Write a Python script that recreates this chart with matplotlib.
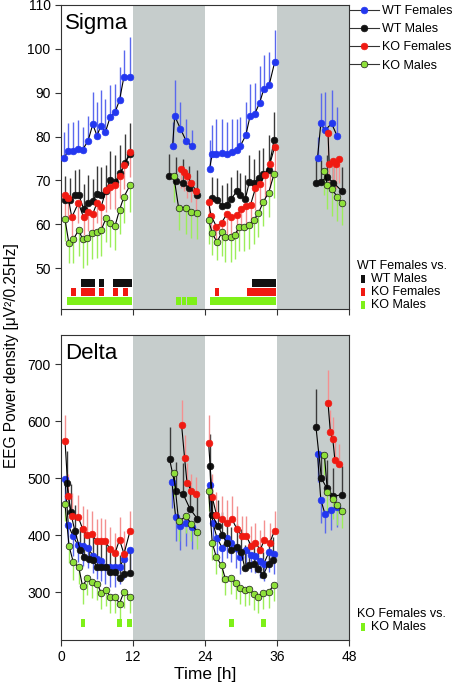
import numpy as np
import matplotlib
matplotlib.use('Agg')
import matplotlib.pyplot as plt
from matplotlib.lines import Line2D
from matplotlib.patches import Rectangle

plt.rcParams['font.family'] = ['Liberation Sans', 'DejaVu Sans']

# ---------------- Sigma (top panel) ----------------
sig_t_wtf = [0.55, 1.12, 1.95, 2.8, 3.6, 4.5, 5.3, 6.0, 6.65, 7.4, 8.2, 9.0, 9.75, 10.5, 11.5,
             18.6, 18.95, 19.9, 20.9, 21.85,
             24.75, 25.2, 25.9, 26.8, 27.7, 28.5, 29.3, 29.9, 30.8, 31.5, 32.3, 33.1, 33.8, 34.7, 35.6,
             42.75, 43.3, 44.0, 45.1, 46.0]
sig_v_wtf = [75.1, 76.7, 76.7, 77.2, 77.0, 79.0, 82.8, 80.2, 82.5, 81.0, 84.5, 85.5, 88.3, 93.7, 93.7,
             77.8, 84.7, 81.8, 78.9, 77.8,
             72.6, 76.0, 76.1, 76.2, 76.0, 76.5, 77.0, 77.9, 80.3, 84.6, 85.2, 87.7, 90.8, 91.8, 96.9,
             75.1, 83.0, 81.4, 83.0, 80.2]
sig_e_wtf = [5.9, 6.5, 6.6, 6.5, 5.3, 5.6, 7.3, 7.7, 8.2, 7.6, 7.2, 6.5, 7.5, 6.1, 8.9,
             5.5, 8.1, 6.1, 5.2, 3.8,
             6.6, 6.6, 7.8, 7.7, 7.3, 7.5, 7.0, 6.5, 7.6, 7.4, 7.0, 8.5, 7.7, 7.5, 7.4,
             4.8, 6.9, 8.7, 7.7, 6.5]

sig_t_wtm = [0.65, 1.45, 2.25, 3.0, 3.75, 4.5, 5.3, 6.0, 6.7, 7.5, 8.2, 9.0, 9.85, 10.7, 11.5,
             18.06, 19.2, 20.3, 21.4, 22.7,
             25.2, 26.0, 26.9, 27.6, 28.4, 29.3, 29.9, 30.7, 31.4, 32.2, 33.0, 33.7, 34.6, 35.5,
             42.5, 43.3, 44.3, 45.4, 46.8]
sig_v_wtm = [65.5, 65.5, 66.6, 66.6, 63.6, 64.8, 65.4, 67.0, 66.6, 67.5, 70.2, 69.7, 71.6, 74.0, 76.0,
             71.0, 69.8, 69.5, 68.2, 66.8,
             66.1, 65.5, 64.2, 64.5, 65.8, 67.6, 66.7, 65.7, 69.7, 69.5, 70.6, 71.4, 72.5, 79.2,
             69.5, 69.7, 70.8, 69.5, 67.6]
sig_e_wtm = [5.5, 5.0, 5.8, 6.0, 5.5, 6.5, 5.0, 6.2, 6.5, 6.0, 6.5, 6.0, 6.5, 6.5, 7.0,
             5.0, 5.5, 5.5, 5.0, 5.5,
             4.7, 5.0, 4.7, 5.0, 5.0, 4.7, 5.0, 5.5, 6.0, 5.5, 6.4, 6.0, 7.8, 6.4,
             5.9, 5.0, 5.0, 5.5, 5.5]

sig_t_kof = [0.67, 1.23, 1.8, 2.9, 3.75, 4.5, 5.3, 6.0, 6.7, 7.5, 8.2, 9.0, 9.75, 10.5, 11.5,
             20.0, 20.5, 21.0, 21.7, 22.5,
             24.6, 25.0, 25.9, 26.8, 27.6, 28.4, 29.3, 30.05, 30.8, 31.6, 32.4, 33.2, 34.0, 34.8, 35.6,
             44.5, 44.7, 45.3, 45.8, 46.3]
sig_v_kof = [66.6, 65.9, 61.6, 64.9, 61.6, 62.9, 62.4, 64.9, 64.0, 67.9, 68.5, 69.0, 71.1, 73.5, 76.4,
             72.7, 72.0, 71.0, 69.5, 67.6,
             65.1, 62.0, 59.5, 60.4, 62.3, 61.7, 62.1, 63.4, 64.2, 64.5, 68.2, 69.3, 71.2, 73.7, 77.6,
             80.9, 73.7, 74.4, 73.7, 74.9]
sig_e_kof = [4.6, 4.5, 4.5, 4.5, 4.0, 4.5, 4.5, 4.5, 4.5, 5.0, 5.0, 5.5, 5.0, 5.5, 5.5,
             4.5, 4.5, 5.0, 4.5, 4.5,
             4.5, 4.5, 4.0, 4.5, 4.5, 4.5, 4.5, 4.5, 4.5, 5.0, 5.0, 5.0, 5.0, 5.5, 5.5,
             5.0, 5.5, 6.0, 5.5, 5.5]

sig_t_kom = [0.65, 1.3, 2.05, 2.95, 3.6, 4.4, 5.2, 6.0, 6.7, 7.5, 8.2, 9.0, 9.75, 10.5, 11.5,
             18.8, 19.6, 20.8, 21.7, 22.7,
             24.6, 25.2, 26.0, 26.8, 27.4, 28.3, 29.0, 29.7, 30.5, 31.3, 32.1, 32.9, 33.7, 34.6, 35.5,
             43.9, 44.4, 45.2, 46.0, 46.8]
sig_v_kom = [61.3, 55.8, 56.6, 58.7, 56.6, 56.8, 58.1, 58.3, 58.7, 61.4, 60.4, 59.6, 63.3, 66.3, 68.9,
             71.0, 63.8, 63.8, 62.8, 62.6,
             61.0, 58.0, 55.9, 58.2, 57.0, 57.0, 57.6, 59.5, 59.4, 59.8, 61.0, 62.5, 65.1, 67.2, 71.4,
             72.2, 68.9, 68.0, 66.3, 64.9]
sig_e_kom = [5.0, 4.5, 5.5, 6.0, 6.5, 6.0, 6.0, 6.0, 6.0, 5.5, 5.5, 5.5, 5.5, 6.0, 6.0,
             6.0, 5.0, 6.0, 6.0, 6.0,
             5.5, 5.0, 4.0, 5.5, 5.5, 5.5, 5.5, 5.5, 5.5, 5.5, 5.5, 5.5, 5.5, 5.5, 5.5,
             5.5, 5.5, 6.0, 5.5, 5.0]

# significance blocks (start hours), top panel: WT Females vs. ...
sig_blk_wtm = [3.3, 4.1, 4.9, 6.35, 8.65, 9.45, 10.25, 11.05, 31.9, 32.7, 33.5, 34.3, 35.1]
sig_blk_kof = [1.65, 3.3, 4.1, 4.9, 6.35, 8.65, 10.3, 25.6, 31.05, 31.85, 32.65, 33.45, 34.25, 35.05]
sig_blk_kom = [0.95, 1.73, 2.51, 3.29, 4.07, 4.85, 5.63, 6.41, 7.19, 7.97, 8.75, 9.53, 10.31, 11.09,
               19.2, 20.1, 21.0, 21.9,
               24.9, 25.68, 26.46, 27.24, 28.02, 28.8, 29.58, 30.36, 31.14, 31.92, 32.7, 33.48, 34.26, 35.04]

# ---------------- Delta (bottom panel) ----------------
del_t_wtf = [0.67, 1.22, 1.95, 2.8, 3.6, 4.5, 5.3, 6.0, 6.6, 7.4, 8.2, 9.0, 9.75, 10.5, 11.5,
             18.5, 19.1, 19.9, 20.9, 21.85,
             24.75, 25.3, 26.0, 26.9, 27.7, 28.4, 29.2, 29.9, 30.8, 31.6, 32.3, 33.1, 33.8, 34.7, 35.5,
             42.75, 43.3, 44.0, 45.0, 46.0]
del_v_wtf = [498, 418, 399, 383, 381, 378, 364, 358, 355, 344, 344, 344, 344, 358, 374,
             493, 432, 416, 421, 415,
             488, 422, 395, 377, 395, 387, 377, 362, 374, 365, 364, 355, 350, 371, 367,
             542, 462, 437, 444, 450]
del_e_wtf = [40, 35, 35, 30, 35, 35, 30, 35, 35, 30, 35, 35, 30, 35, 35,
             45, 43, 42, 40, 40,
             45, 40, 35, 35, 35, 35, 35, 30, 35, 30, 30, 30, 30, 35, 35,
             48, 40, 33, 35, 35]

del_t_wtm = [0.95, 1.6, 2.3, 3.2, 3.85, 4.6, 5.3, 6.0, 6.7, 7.5, 8.2, 9.0, 9.75, 10.5, 11.5,
             18.1, 19.2, 20.35, 21.5, 22.7,
             24.8, 25.2, 26.1, 26.9, 27.6, 28.4, 29.3, 30.0, 30.65, 31.4, 32.1, 32.9, 33.7, 34.6, 35.4,
             42.5, 43.4, 44.3, 45.4, 46.8]
del_v_wtm = [492, 440, 408, 374, 362, 358, 356, 344, 344, 344, 336, 336, 325, 332, 334,
             533, 478, 472, 446, 429,
             522, 436, 416, 401, 387, 374, 380, 371, 342, 348, 350, 340, 330, 350, 357,
             589, 500, 482, 468, 471]
del_e_wtm = [55, 50, 45, 40, 45, 45, 40, 45, 45, 40, 45, 40, 40, 40, 40,
             57, 50, 55, 45, 45,
             55, 45, 45, 40, 40, 40, 40, 40, 40, 40, 40, 40, 40, 40, 40,
             67, 45, 50, 50, 50]

del_t_kof = [0.67, 1.22, 1.8, 2.9, 3.6, 4.4, 5.1, 6.0, 6.65, 7.4, 8.2, 9.0, 9.75, 10.5, 11.5,
             20.1, 20.6, 21.0, 21.7, 22.5,
             24.6, 25.2, 25.9, 26.75, 27.6, 28.5, 29.3, 30.1, 30.9, 31.7, 32.4, 33.2, 33.9, 34.8, 35.6,
             44.5, 44.9, 45.3, 45.65, 46.3]
del_v_kof = [565, 468, 433, 431, 411, 400, 402, 389, 390, 389, 375, 368, 392, 367, 407,
             593, 535, 492, 478, 472,
             562, 467, 436, 428, 421, 428, 411, 399, 398, 381, 387, 374, 392, 387, 408,
             632, 580, 568, 532, 525]
del_e_kof = [46, 40, 40, 40, 40, 45, 40, 40, 40, 40, 40, 35, 40, 40, 35,
             44, 40, 35, 30, 30,
             48, 40, 40, 40, 40, 40, 40, 35, 35, 35, 35, 35, 35, 35, 35,
             58, 40, 40, 35, 35]

del_t_kom = [0.67, 1.34, 2.06, 2.95, 3.6, 4.4, 5.2, 6.0, 6.7, 7.5, 8.2, 9.0, 9.75, 10.5, 11.5,
             18.8, 19.6, 20.85, 21.7, 22.7,
             24.6, 25.2, 25.9, 26.75, 27.4, 28.3, 29.1, 29.8, 30.6, 31.3, 32.1, 32.8, 33.7, 34.6, 35.5,
             43.9, 44.4, 45.3, 46.0, 46.8]
del_v_kom = [454, 381, 352, 344, 310, 325, 317, 315, 299, 304, 292, 292, 280, 301, 292,
             509, 424, 433, 420, 406,
             477, 387, 361, 347, 323, 325, 316, 308, 303, 306, 297, 292, 299, 301, 312,
             541, 476, 464, 453, 443]
del_e_kom = [30, 30, 30, 30, 30, 30, 28, 28, 28, 28, 28, 28, 28, 28, 28,
             40, 35, 30, 30, 30,
             35, 30, 30, 30, 28, 28, 28, 28, 28, 28, 28, 28, 28, 28, 28,
             35, 35, 35, 35, 30]

# significance blocks, bottom panel: KO Females vs. KO Males
del_blk_kom = [3.3, 9.4, 11.05, 28.0, 33.4]

labels = ['WT Females', 'WT Males', 'KO Females', 'KO Males']
face = ['#2337f0', '#111111', '#f01a12', '#8ee03a']
edge = ['#2337f0', '#111111', '#f01a12', '#1a1a1a']
errc = ['#5a68ee', '#3a3a3a', '#f49090', '#9cee5a']
shade = '#c6cdcc'


def draw(ax, t, v, e, k, up):
    t = np.asarray(t, float)
    v = np.asarray(v, float)
    e = np.asarray(e, float)
    br = np.where(np.diff(t) > 1.5)[0] + 1
    for ts, vs, es in zip(np.split(t, br), np.split(v, br), np.split(e, br)):
        z = np.zeros_like(es)
        yerr = [z, es] if up else [es, z]
        ax.errorbar(ts, vs, yerr=yerr, fmt='none', ecolor=errc[k], elinewidth=1.0,
                    capsize=0, zorder=2)
        ax.plot(ts, vs, '-', color='black', lw=0.8, marker='o', ms=4.8,
                mfc=face[k], mec=edge[k], mew=0.5, zorder=3 + k)


fig = plt.figure(figsize=(4.54, 6.84), dpi=100)
ax1 = fig.add_axes([61 / 454, 1 - 309 / 684, 288 / 454, 304 / 684])
ax2 = fig.add_axes([61 / 454, 1 - 640 / 684, 288 / 454, 305 / 684])

for ax in (ax1, ax2):
    ax.axvspan(12, 24, color=shade, lw=0, zorder=0)
    ax.axvspan(36, 48, color=shade, lw=0, zorder=0)
    ax.set_xlim(0, 48)
    ax.set_xticks([0, 12, 24, 36, 48])
    ax.tick_params(direction='out', length=4, width=0.8, labelsize=10, color='#333333')
    for s in ax.spines.values():
        s.set_color('#333333')
        s.set_linewidth(0.8)

# top panel
draw(ax1, sig_t_wtf, sig_v_wtf, sig_e_wtf, 0, True)
draw(ax1, sig_t_wtm, sig_v_wtm, sig_e_wtm, 1, True)
draw(ax1, sig_t_kof, sig_v_kof, sig_e_kof, 2, False)
draw(ax1, sig_t_kom, sig_v_kom, sig_e_kom, 3, False)
ax1.bar(sig_blk_wtm, 1.8, width=0.8, bottom=45.7, align='edge', color='#111111',
        linewidth=0, zorder=2)
ax1.bar(sig_blk_kof, 1.75, width=0.8, bottom=43.7, align='edge', color='#f01a12',
        linewidth=0, zorder=2)
ax1.bar(sig_blk_kom, 1.8, width=0.78, bottom=41.7, align='edge', color='#7ef018',
        linewidth=0, zorder=2)
ax1.set_ylim(40.7, 110)
ax1.set_yticks([50, 60, 70, 80, 90, 100, 110])
ax1.set_xticklabels([])
ax1.text(0.015, 0.975, 'Sigma', transform=ax1.transAxes, fontsize=16, va='top', ha='left')

# bottom panel
draw(ax2, del_t_wtf, del_v_wtf, del_e_wtf, 0, False)
draw(ax2, del_t_wtm, del_v_wtm, del_e_wtm, 1, True)
draw(ax2, del_t_kof, del_v_kof, del_e_kof, 2, True)
draw(ax2, del_t_kom, del_v_kom, del_e_kom, 3, False)
ax2.bar(del_blk_kom, 15, width=0.75, bottom=238, align='edge', color='#7ef018',
        linewidth=0, zorder=2)
ax2.set_ylim(216, 751)
ax2.set_yticks([300, 400, 500, 600, 700])
ax2.set_xlabel('Time [h]', fontsize=12.5, labelpad=2)
ax2.text(0.015, 0.975, 'Delta', transform=ax2.transAxes, fontsize=16, va='top', ha='left')

fig.text(12 / 454, 1 - 356 / 684, 'EEG Power density [\u03bcV\u00b2/0.25Hz]', rotation=90,
         ha='center', va='center', fontsize=11.2)

# main legend
handles = [Line2D([], [], color='#333333', lw=0.8, marker='o', ms=4.8, mfc=face[k],
                  mec=edge[k], mew=0.5) for k in range(4)]
fig.legend(handles, labels, loc='upper left', bbox_to_anchor=(350 / 454, 1 - 5 / 684),
           frameon=False, fontsize=9, handlelength=2.3, handletextpad=0.3,
           labelspacing=0.5, borderaxespad=0, borderpad=0)

# significance legends
def sig_legend(title, names, cols, y0):
    fig.text(357 / 454, 1 - y0 / 684, title, fontsize=9, va='center', ha='left')
    for i, (n, c) in enumerate(zip(names, cols)):
        yy = y0 + 13 * (i + 1)
        fig.add_artist(Rectangle((361 / 454, 1 - (yy + 4) / 684), 3.5 / 454, 8 / 684,
                                 transform=fig.transFigure, color=c, lw=0))
        fig.text(371 / 454, 1 - yy / 684, n, fontsize=9, va='center', ha='left')

sig_legend('WT Females vs.', ['WT Males', 'KO Females', 'KO Males'],
           ['#111111', '#f01a12', '#7ef018'], 266)
sig_legend('KO Females vs.', ['KO Males'], ['#7ef018'], 614)

fig.savefig('out.png', dpi=100)
